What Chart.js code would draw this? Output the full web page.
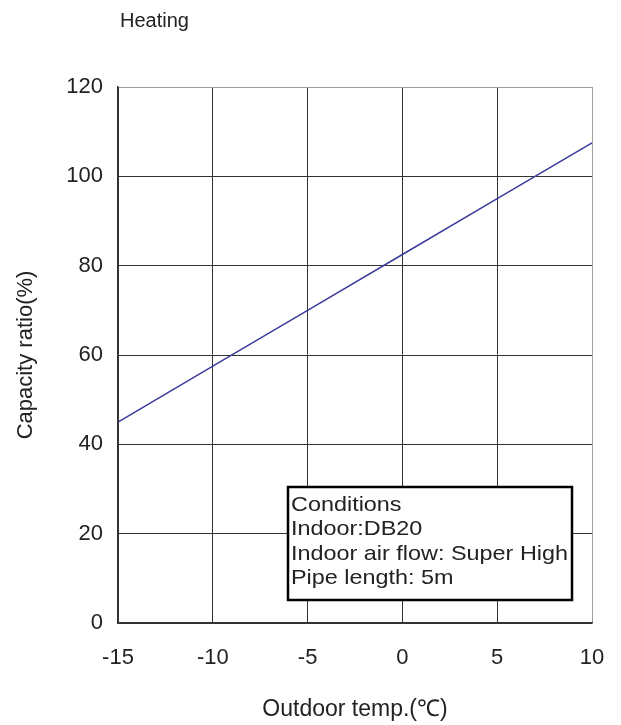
<!DOCTYPE html>
<html>
<head>
<meta charset="utf-8">
<script src="https://cdn.jsdelivr.net/npm/chart.js@4/dist/chart.umd.min.js"></script>
<style>
  html, body { margin: 0; padding: 0; background: #fff; }
  #wrap { width: 621px; height: 725px; }
</style>
</head>
<body>
<div id="wrap"><canvas id="heatChart" width="621" height="725"></canvas></div>
<script>
// outdoor temp (deg C) and capacity ratio (%)
const temps = [-15, -10, -5, 0, 5, 10];
const capacity = [45, 57.5, 70, 82.5, 95, 107.5];
const xTicks = [-15, -10, -5, 0, 5, 10];
const yTicks = [0, 20, 40, 60, 80, 100, 120];
const conditionLines = ['Conditions', 'Indoor:DB20', 'Indoor air flow: Super High', 'Pipe length: 5m'];

const FONT = '"Liberation Sans", Arial, sans-serif';

let extras = {
  id: 'extras',
  afterDraw(chart) {
    let ctx = chart.ctx;
    ctx.save();
    // heading
    ctx.fillStyle = '#222';
    ctx.font = '20px ' + FONT;
    ctx.textBaseline = 'middle';
    ctx.fillText('Heating', 120, 21);
    // conditions box
    ctx.fillStyle = '#fff';
    ctx.fillRect(288, 487, 284, 113);
    ctx.strokeStyle = '#000';
    ctx.lineWidth = 2.5;
    ctx.strokeRect(288, 487, 284, 113);
    ctx.fillStyle = '#222';
    ctx.font = '21px ' + FONT;
    ctx.textBaseline = 'alphabetic';
    // text in the original is a little wider than Liberation Sans
    let w = ctx.measureText(conditionLines[2]).width;
    let sx = 277 / w;
    ctx.translate(291, 0);
    ctx.scale(sx, 1);
    conditionLines.forEach((t, i) => ctx.fillText(t, 0, 511 + i * 24.4));
    ctx.restore();
  }
};

let heatCtx = document.getElementById('heatChart').getContext('2d');
let heatChart = new Chart(heatCtx, {
  type: 'line',
  data: {
    labels: temps,
    datasets: [{
      data: temps.map((t, i) => ({x: t, y: capacity[i]})),
      fill: false,
      borderColor: '#3c3c9c',
      borderWidth: 1.5,
      pointRadius: 0,
      tension: 0
    }]
  },
  options: {
    responsive: false,
    animation: false,
    events: [],
    layout: { padding: { top: 87, right: 29, bottom: 0, left: 0 } },
    plugins: {
      legend: { display: false },
      tooltip: { enabled: false }
    },
    scales: {
      x: {
        type: 'linear',
        min: -15,
        max: 10,
        afterFit: (axis) => {
          axis.height = 102;
          axis.paddingLeft = 0;
          axis.paddingRight = 0;
        },
        afterBuildTicks: (axis) => { axis.ticks = xTicks.map(v => ({value: v})); },
        grid: {
          drawTicks: false,
          color: (c) => c.tick && c.tick.value === 10 ? '#a0a0a0' : '#333',
          lineWidth: 1
        },
        border: { color: '#333', width: 1.5 },
        ticks: { padding: 22, color: '#222', font: { size: 22, family: FONT } },
        title: {
          display: true,
          text: 'Outdoor temp.(℃)',
          color: '#222',
          font: { size: 23, family: FONT },
          padding: { top: 0, bottom: 2 }
        }
      },
      y: {
        min: 0,
        max: 120,
        afterFit: (axis) => {
          axis.width = 118;
          axis.paddingTop = 0;
          axis.paddingBottom = 0;
        },
        afterBuildTicks: (axis) => { axis.ticks = yTicks.map(v => ({value: v})); },
        grid: {
          drawTicks: false,
          color: (c) => c.tick && c.tick.value === 120 ? '#a0a0a0' : '#333',
          lineWidth: 1
        },
        border: { color: '#333', width: 1.5 },
        ticks: { padding: 15, color: '#222', font: { size: 22, family: FONT } },
        title: {
          display: true,
          text: 'Capacity ratio(%)',
          color: '#222',
          font: { size: 22, family: FONT },
          padding: { top: 13, bottom: 0 }
        }
      }
    }
  },
  plugins: [extras]
});
</script>
</body>
</html>
